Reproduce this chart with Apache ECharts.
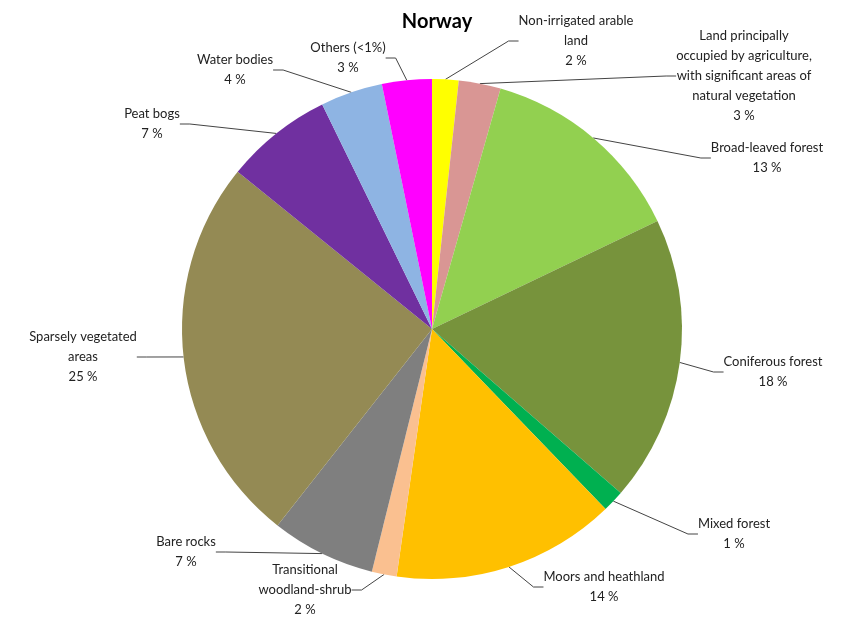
<!DOCTYPE html>
<html>
<head>
<meta charset="utf-8">
<script src="https://cdn.jsdelivr.net/npm/echarts@6/dist/echarts.min.js"></script>
<style>
html,body{margin:0;padding:0;background:#fff;}
#chart{width:841px;height:621px;}
</style>
</head>
<body>
<div id="chart"></div>
<script>
var categories = [
  'Non-irrigated arable\nland',
  'Land principally\noccupied by agriculture,\nwith significant areas of\nnatural vegetation',
  'Broad-leaved forest',
  'Coniferous forest',
  'Mixed forest',
  'Moors and heathland',
  'Transitional\nwoodland-shrub',
  'Bare rocks',
  'Sparsely vegetated\nareas',
  'Peat bogs',
  'Water bodies',
  'Others (<1%)'
];
var values = [1.7, 2.7, 13.4, 18.4, 1.4, 14.4, 1.6, 6.7, 25.1, 6.9, 4.0, 3.2];
var colors = ['#ffff00', '#d99694', '#92d050', '#77933c', '#00b050', '#ffc000',
              '#fac090', '#7f7f7f', '#948a54', '#7030a0', '#8eb4e3', '#ff00ff'];
// label centres (layout only)
var labelPos = [
  [576, 41], [744, 76], [767, 158], [773, 372], [734, 534], [604, 587],
  [305, 590], [186, 552], [83, 357], [152, 124], [235, 70], [348, 58]
];

var chart = echarts.init(document.getElementById('chart'));
var data = categories.map(function (c, i) {
  return { name: c, value: values[i], itemStyle: { color: colors[i] } };
});
chart.setOption({
  animation: false,
  backgroundColor: '#fff',
  title: {
    text: 'Norway',
    left: 432, top: 7,
    textAlign: 'center',
    textStyle: { fontFamily: 'Lato', fontWeight: 'bold', fontSize: 20, color: '#000' }
  },
  series: [{
    type: 'pie',
    center: [432, 329],
    radius: [0, 250],
    startAngle: 90,
    clockwise: true,
    data: data,
    itemStyle: { borderWidth: 0 },
    label: {
      show: true,
      position: 'outside',
      fontFamily: 'Lato',
      fontSize: 13,
      lineHeight: 20,
      color: '#222',
      align: 'center',
      formatter: function (p) { return p.name + '\n' + Math.round(p.value) + ' %'; }
    },
    labelLine: {
      show: true,
      lineStyle: { color: '#444', width: 1 },
      length: 10, length2: 10
    },
    labelLayout: function (p) {
      var pos = labelPos[p.dataIndex];
      return {
        x: pos[0], y: pos[1],
        align: 'center',
        verticalAlign: 'middle'
      };
    }
  }]
});
</script>
</body>
</html>
